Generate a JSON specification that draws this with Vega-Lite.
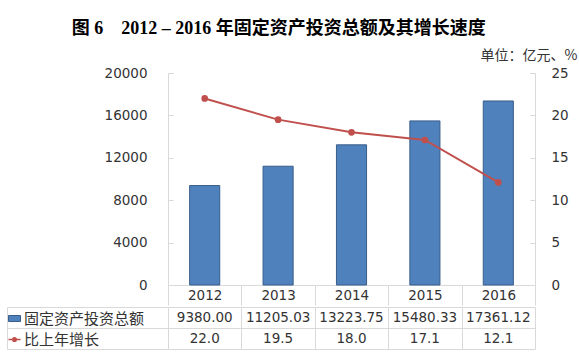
{
  "$schema": "https://vega.github.io/schema/vega-lite/v6.json",
  "background": "white",
  "padding": {"left": 6, "top": 20, "right": 3, "bottom": 10},
  "datasets": {
    "main": [
      {"year": "2012", "invest": 9380.00, "growth": 22.0},
      {"year": "2013", "invest": 11205.03, "growth": 19.5},
      {"year": "2014", "invest": 13223.75, "growth": 18.0},
      {"year": "2015", "invest": 15480.33, "growth": 17.1},
      {"year": "2016", "invest": 17361.12, "growth": 12.1}
    ]
  },
  "title": {
    "text": "图 6\u30002012 – 2016 年固定资产投资总额及其增长速度",
    "font": "Liberation Serif, Noto Sans CJK SC",
    "fontSize": 18,
    "fontWeight": "bold",
    "color": "#000000",
    "anchor": "middle",
    "dx": -13,
    "offset": 10
  },
  "config": {
    "view": {"stroke": null},
    "axis": {
      "labelFont": "DejaVu Sans",
      "labelFontSize": 13.5,
      "labelColor": "#333333",
      "domainColor": "#D9D9D9",
      "tickColor": "#D9D9D9",
      "gridColor": "#D9D9D9"
    },
    "legend": {
      "orient": "none",
      "title": null,
      "padding": 0,
      "symbolSize": 144,
      "labelFont": "Noto Sans CJK SC",
      "labelFontSize": 15,
      "labelColor": "#333333",
      "labelOffset": 2
    }
  },
  "spacing": 0,
  "vconcat": [
    {
      "width": 367,
      "height": 212,
      "data": {"name": "main"},
      "encoding": {
        "x": {
          "field": "year",
          "type": "ordinal",
          "scale": {"paddingInner": 0, "paddingOuter": 0},
          "axis": {
            "title": null,
            "labelAngle": 0,
            "tickBand": "extent",
            "tickSize": 20,
            "labelPadding": -10,
            "labelBaseline": "middle",
            "grid": false
          }
        }
      },
      "layer": [
        {
          "mark": {"type": "bar", "width": {"band": 0.41}, "stroke": "#385D8A", "strokeWidth": 1},
          "encoding": {
            "y": {
              "field": "invest",
              "type": "quantitative",
              "scale": {"domain": [0, 20000]},
              "axis": {
                "orient": "left",
                "values": [0, 4000, 8000, 12000, 16000, 20000],
                "format": "d",
                "tickSize": -5,
                "labelPadding": 26,
                "grid": false,
                "title": null
              }
            },
            "fill": {
              "datum": "固定资产投资总额",
              "scale": {"domain": ["固定资产投资总额"], "range": ["#4F81BD"]},
              "legend": {
                "legendX": -161,
                "legendY": 238,
                "symbolType": "M-1,-0.5H1V0.5H-1Z",
                "symbolStrokeColor": "#385D8A",
                "symbolStrokeWidth": 1,
                "symbolFillColor": "#4F81BD"
              }
            }
          }
        },
        {
          "mark": {"type": "line", "color": "#C0504D", "strokeWidth": 2, "point": {"filled": true, "fill": "#C0504D", "size": 22}},
          "encoding": {
            "y": {
              "field": "growth",
              "type": "quantitative",
              "scale": {"domain": [0, 25]},
              "axis": {
                "orient": "right",
                "values": [0, 5, 10, 15, 20, 25],
                "tickSize": -5,
                "labelPadding": 21,
                "grid": false,
                "title": "单位：亿元、%",
                "titleAngle": 0,
                "titleX": 42,
                "titleY": -18,
                "titleAlign": "right",
                "titleBaseline": "middle",
                "titleFont": "Noto Sans CJK SC",
                "titleFontSize": 14,
                "titleFontWeight": "normal",
                "titleColor": "#333333"
              }
            },
            "stroke": {
              "datum": "比上年增长",
              "scale": {"domain": ["比上年增长"], "range": ["#C0504D"]},
              "legend": {
                "legendX": -161,
                "legendY": 259,
                "symbolType": "M-1,0H1M-0.3,0A0.3,0.3,0,1,0,0.3,0A0.3,0.3,0,1,0,-0.3,0",
                "symbolStrokeColor": "#C0504D",
                "symbolStrokeWidth": 1.5,
                "symbolFillColor": "#C0504D",
                "encode": {
                  "symbols": {
                    "update": {
                      "fill": {"value": "#C0504D"},
                      "stroke": {"value": "#C0504D"},
                      "opacity": {"value": 1}
                    }
                  }
                }
              }
            }
          }
        }
      ],
      "resolve": {"scale": {"y": "independent"}}
    },
    {
      "width": 367,
      "height": 42,
      "data": {"name": "main"},
      "transform": [{"fold": ["invest", "growth"], "as": ["key", "value"]}],
      "mark": {"type": "text", "font": "DejaVu Sans", "fontSize": 13.5, "color": "#333333"},
      "encoding": {
        "x": {
          "field": "year",
          "type": "ordinal",
          "scale": {"paddingInner": 0, "paddingOuter": 0},
          "axis": {"orient": "top", "grid": true, "tickBand": "extent", "ticks": false, "labels": false, "domain": false, "title": null}
        },
        "y": {
          "field": "key",
          "type": "nominal",
          "scale": {"domain": ["invest", "growth"], "paddingInner": 0, "paddingOuter": 0},
          "axis": {"grid": true, "tickBand": "extent", "offset": 161, "tickSize": -161, "labels": false, "title": null}
        },
        "text": {
          "condition": {"test": "datum.key === 'growth'", "field": "value", "type": "quantitative", "format": ".1f"},
          "field": "value",
          "type": "quantitative",
          "format": ".2f"
        }
      }
    }
  ]
}
